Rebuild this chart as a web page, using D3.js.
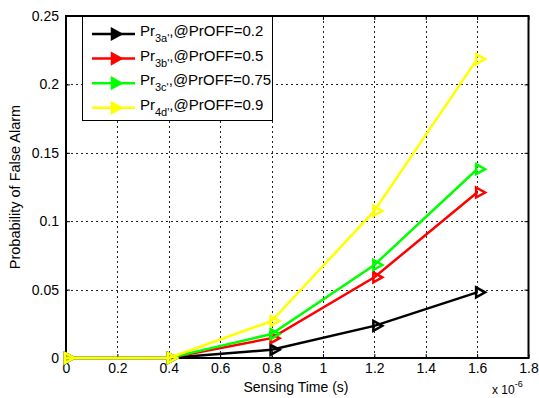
<!DOCTYPE html>
<html lang="en">
<head>
<meta charset="utf-8">
<title>False alarm vs sensing time</title>
<script src="https://cdn.jsdelivr.net/npm/d3@7"></script>
<style>
body { margin: 0; background: #fff; }
svg { font-family: "Liberation Sans", Arial, sans-serif; }
</style>
</head>
<body>
<script>
var width = 539, height = 398;
var margin = {left: 66, right: 10, top: 16, bottom: 40};

// sensing time (x 10^-6 s)
var times = [0, 0.4, 0.8, 1.2, 1.6];
var pr3a = [0, 0, 0.006, 0.0235, 0.048];
var pr3b = [0, 0, 0.0145, 0.059, 0.121];
var pr3c = [0, 0, 0.0175, 0.068, 0.138];
var pr4d = [0, 0, 0.027, 0.1075, 0.2185];
var names = ["3a", "3b", "3c", "4d"];
var probs = ["0.2", "0.5", "0.75", "0.9"];
var colors = ["#000000", "#ff0000", "#00ff00", "#ffff00"];
var xTicks = [0, 0.2, 0.4, 0.6, 0.8, 1, 1.2, 1.4, 1.6, 1.8];
var yTicks = [0, 0.05, 0.1, 0.15, 0.2, 0.25];

var series = [pr3a, pr3b, pr3c, pr4d];

var svg = d3.select("body").append("svg")
    .attr("width", width).attr("height", height);

var x = d3.scaleLinear().domain([0, 1.8]).range([margin.left, width - margin.right - 0.5]);
var y = d3.scaleLinear().domain([0, 0.25]).range([height - margin.bottom, margin.top]);

// grid
var grid = svg.append("g").attr("stroke", "#222").attr("stroke-width", 1)
    .attr("stroke-dasharray", "2,3");
xTicks.slice(1, -1).forEach(function(t) {
    grid.append("line").attr("x1", Math.round(x(t)) + 0.5).attr("x2", Math.round(x(t)) + 0.5)
        .attr("y1", y(0)).attr("y2", y(0.25));
});
yTicks.slice(1, -1).forEach(function(t) {
    grid.append("line").attr("y1", Math.round(y(t)) + 0.5).attr("y2", Math.round(y(t)) + 0.5)
        .attr("x1", x(0)).attr("x2", x(1.8));
});

// axes
var xAxis = d3.axisBottom(x).tickValues(xTicks).tickSize(-4).tickPadding(5)
    .tickFormat(function(d) { return d3.format("~g")(d); });
var yAxis = d3.axisLeft(y).tickValues(yTicks).tickSize(-4).tickPadding(7)
    .tickFormat(function(d) { return d3.format("~g")(d); });

var gx = svg.append("g").attr("transform", "translate(0," + y(0) + ")").call(xAxis);
var gy = svg.append("g").attr("transform", "translate(" + x(0) + ",0)").call(yAxis);
[gx, gy].forEach(function(g) {
    g.select(".domain").remove();
    g.selectAll("text").attr("font-size", 14).attr("fill", "#000")
        .attr("font-family", "Liberation Sans, Arial, sans-serif");
});
// top/right ticks
var gx2 = svg.append("g").attr("transform", "translate(0," + y(0.25) + ")")
    .call(d3.axisTop(x).tickValues(xTicks).tickSize(-4).tickFormat(""));
var gy2 = svg.append("g").attr("transform", "translate(" + x(1.8) + ",0)")
    .call(d3.axisRight(y).tickValues(yTicks).tickSize(-4).tickFormat(""));
gx2.select(".domain").remove();
gy2.select(".domain").remove();

svg.append("rect").attr("x", x(0)).attr("y", y(0.25))
    .attr("width", x(1.8) - x(0)).attr("height", y(0) - y(0.25))
    .attr("fill", "none").attr("stroke", "#000").attr("stroke-width", 2);

// lines
var line = d3.line().x(function(d, i) { return x(times[i]); }).y(function(d) { return y(d); });

function tri(cx, cy) {
    return "M" + (cx - 1) + "," + (cy - 5) + "L" + (cx + 8) + "," + cy + "L" + (cx - 1) + "," + (cy + 5) + "Z";
}

series.forEach(function(s, k) {
    svg.append("path").datum(s).attr("d", line)
        .attr("fill", "none").attr("stroke", colors[k]).attr("stroke-width", 2.5);
    svg.append("g").selectAll("path").data(s).enter().append("path")
        .attr("d", function(d, i) { return tri(x(times[i]), y(d)); })
        .attr("fill", "none").attr("stroke", colors[k]).attr("stroke-width", 2.5);
});

// legend
var lg = svg.append("g");
lg.append("rect").attr("x", 82.5).attr("y", 16.5).attr("width", 190).attr("height", 104)
    .attr("fill", "#fff").attr("stroke", "#000").attr("stroke-width", 1);
names.forEach(function(n, k) {
    var ly = 34 + k * 24.6;
    lg.append("line").attr("x1", 92).attr("x2", 135).attr("y1", ly).attr("y2", ly)
        .attr("stroke", colors[k]).attr("stroke-width", 2.5);
    lg.append("path").attr("d", tri(113, ly)).attr("fill", colors[k])
        .attr("stroke", colors[k]).attr("stroke-width", 2.5);
    var t = lg.append("text").attr("x", 140).attr("y", ly + 2).attr("font-size", 15).attr("fill", "#000");
    t.append("tspan").text("Pr");
    t.append("tspan").attr("font-size", 11).attr("dy", 6).text(n + "'");
    t.append("tspan").attr("dy", -6).text(",@PrOFF=" + probs[k]);
});

// labels
svg.append("text").attr("x", 296).attr("y", 392)
    .attr("text-anchor", "middle").attr("font-size", 14).text("Sensing Time (s)");
svg.append("text").attr("transform", "translate(20," + (y(0.125)) + ") rotate(-90)")
    .attr("text-anchor", "middle").attr("font-size", 14.5).text("Probability of False Alarm");
var ex = svg.append("text").attr("x", 492).attr("y", 394).attr("font-size", 12);
ex.append("tspan").text("x 10");
ex.append("tspan").attr("font-size", 9).attr("dy", -7).text("-6");
</script>
</body>
</html>
